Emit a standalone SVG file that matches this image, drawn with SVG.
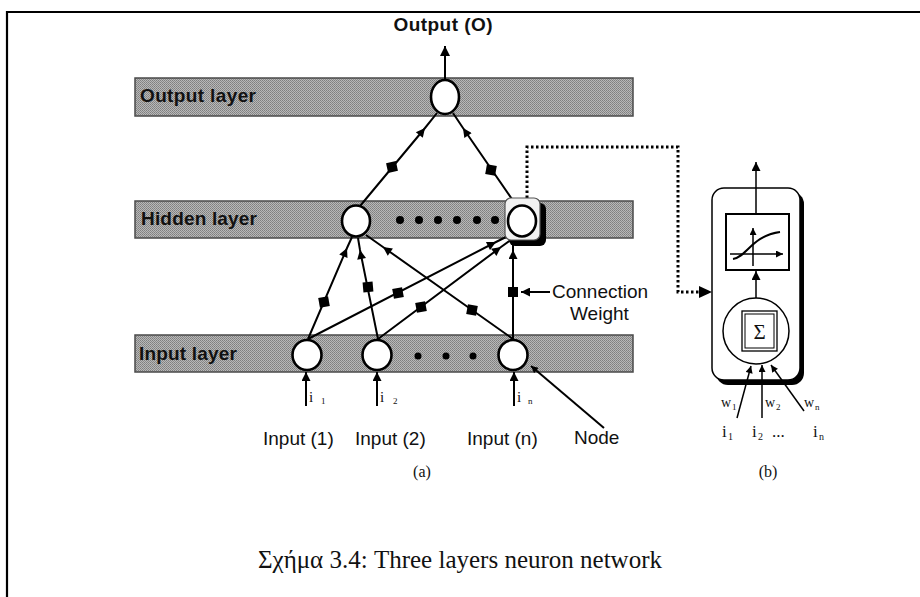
<svg xmlns="http://www.w3.org/2000/svg" width="920" height="597" viewBox="0 0 920 597">
  <defs>
    <!-- halftone fill used for the layer bands -->
    <pattern id="halftone" width="2" height="2" patternUnits="userSpaceOnUse">
      <rect width="2" height="2" fill="#b8b8b8"/>
      <rect width="1" height="1" fill="#7f7f7f"/>
      <rect x="1" y="1" width="1" height="1" fill="#8a8a8a"/>
    </pattern>
    <marker id="ah" viewBox="0 0 10 10" refX="10" refY="5" markerWidth="11" markerHeight="9" markerUnits="userSpaceOnUse" orient="auto">
      <path d="M0,0 L10,5 L0,10 z" fill="#000"/>
    </marker>
    <marker id="ahs" viewBox="0 0 10 10" refX="10" refY="5" markerWidth="8" markerHeight="7" markerUnits="userSpaceOnUse" orient="auto">
      <path d="M0,0 L10,5 L0,10 z" fill="#000"/>
    </marker>
    <marker id="ahb" viewBox="0 0 10 10" refX="10" refY="5" markerWidth="13" markerHeight="10" markerUnits="userSpaceOnUse" orient="auto">
      <path d="M0,0 L10,5 L0,10 z" fill="#000"/>
    </marker>
  </defs>
  <style>
    .band { fill: url(#halftone); stroke: #4a4a4a; stroke-width: 1.5; }
    .band-label { font-family: "Liberation Sans", Arial, sans-serif; font-weight: bold; font-size: 19px; fill: #111; }
    .node { fill: #fff; stroke: #000; stroke-width: 2.6; }
    .dot { fill: #000; }
    .conn { fill: none; stroke: #000; stroke-width: 2; }
    .wt { fill: #000; }
    .lbl { font-family: "Liberation Sans", Arial, sans-serif; font-size: 19px; fill: #111; }
    .ser { font-family: "Liberation Serif", "Times New Roman", serif; fill: #111; }
    .thin { fill: none; stroke: #000; stroke-width: 1.5; }
  </style>

  <rect width="920" height="597" fill="#fff"/>
  <!-- page frame (top and left rules) -->
  <path d="M7,597 V12 H920" fill="none" stroke="#000" stroke-width="2.2"/>

  <!-- layer bands -->
  <g id="output-layer">
    <rect class="band" x="135" y="78" width="498" height="38"/>
    <text class="band-label" x="140" y="102" textLength="116">Output layer</text>
  </g>
  <g id="hidden-layer">
    <rect class="band" x="135" y="201" width="498" height="37"/>
    <text class="band-label" x="141" y="225" textLength="116">Hidden layer</text>
  </g>
  <g id="input-layer">
    <rect class="band" x="135" y="335" width="498" height="37"/>
    <text class="band-label" x="139" y="360" textLength="98">Input layer</text>
  </g>

  <!-- connectors -->
  <g id="connectors">
    <!-- output -->
    <path class="conn" d="M445,80 V46" marker-end="url(#ahb)"/>
    <!-- hidden to output -->
    <path class="conn" d="M360,206 L425,128 L437,113" marker-mid="url(#ah)"/>
    <path class="conn" d="M516,205 L463,128 L453,113" marker-mid="url(#ah)"/>
    <!-- input to hidden -->
    <path class="conn" d="M308,339 L347,248 L352,237" marker-mid="url(#ah)"/>
    <path class="conn" d="M378,339 L360,250 L358,238" marker-mid="url(#ah)"/>
    <path class="conn" d="M513,339 L383,247 L366,235" marker-mid="url(#ah)"/>
    <path class="conn" d="M308,339 L496,242 L508,236" marker-mid="url(#ah)"/>
    <path class="conn" d="M378,339 L501,247 L512,239" marker-mid="url(#ah)"/>
    <path class="conn" d="M513,339 L513,250 L513,237" marker-mid="url(#ah)"/>
    <!-- external inputs -->
    <path class="conn" d="M306,406 V372" stroke-width="2.6" marker-end="url(#ah)"/>
    <path class="conn" d="M377,406 V372" stroke-width="2.6" marker-end="url(#ah)"/>
    <path class="conn" d="M514,406 V372" stroke-width="2.6" marker-end="url(#ah)"/>
    <!-- callouts -->
    <path class="conn" d="M550,292 H521" stroke-width="1.5" marker-end="url(#ah)"/>
    <path class="conn" d="M604,428 L531,366" stroke-width="1.8" marker-end="url(#ahs)"/>
    <!-- link from hidden node to neuron detail -->
    <path d="M527,198 V147 H678 V292 H702" fill="none" stroke="#000" stroke-width="3" stroke-dasharray="2.5 2.5"/>
    <path d="M699,286 L712,292 L699,298 z" fill="#000"/>
    <!-- connection weights -->
    <rect class="wt" x="-5" y="-5" width="10" height="10" transform="translate(392,167) rotate(-12)"/>
    <rect class="wt" x="-5" y="-5" width="10" height="10" transform="translate(491,170) rotate(10)"/>
    <rect class="wt" x="-5" y="-5" width="10" height="10" transform="translate(324,302) rotate(-10)"/>
    <rect class="wt" x="-5" y="-5" width="10" height="10" transform="translate(368,287) rotate(-5)"/>
    <rect class="wt" x="-5" y="-5" width="10" height="10" transform="translate(472,310) rotate(10)"/>
    <rect class="wt" x="-5" y="-5" width="10" height="10" transform="translate(398,293) rotate(-10)"/>
    <rect class="wt" x="-5" y="-5" width="10" height="10" transform="translate(421,307) rotate(-10)"/>
    <rect class="wt" x="-5" y="-5" width="10" height="10" transform="translate(513,292)"/>
  </g>

  <!-- nodes -->
  <g id="node-output">
    <ellipse class="node" cx="445" cy="97" rx="14" ry="17"/>
  </g>
  <g id="node-hidden-1">
    <ellipse class="node" cx="356" cy="221" rx="14" ry="15.5"/>
  </g>
  <g id="hidden-dots">
    <circle class="dot" cx="400" cy="220" r="4"/>
    <circle class="dot" cx="419" cy="220" r="4"/>
    <circle class="dot" cx="438" cy="220" r="4"/>
    <circle class="dot" cx="457" cy="220" r="4"/>
    <circle class="dot" cx="477" cy="220" r="4"/>
    <circle class="dot" cx="495" cy="220" r="4"/>
  </g>
  <g id="node-hidden-n">
    <rect x="509" y="203" width="37" height="43" rx="6" fill="#000"/>
    <rect x="505" y="198" width="35" height="42" rx="6" fill="#f2f2f2" stroke="#555" stroke-width="1.2"/>
    <ellipse class="node" cx="522" cy="221" rx="14" ry="15.5"/>
  </g>
  <g id="node-input-1">
    <ellipse class="node" cx="307" cy="355" rx="14.5" ry="15"/>
    <text class="ser" x="309" y="402" font-size="15">i</text>
    <text class="ser" x="321" y="404" font-size="9">1</text>
  </g>
  <g id="node-input-2">
    <ellipse class="node" cx="377" cy="355" rx="14.5" ry="15"/>
    <text class="ser" x="380" y="402" font-size="15">i</text>
    <text class="ser" x="393" y="404" font-size="9">2</text>
  </g>
  <g id="input-dots">
    <circle class="dot" cx="418" cy="356" r="3.5"/>
    <circle class="dot" cx="446" cy="356" r="3.5"/>
    <circle class="dot" cx="473" cy="356" r="3.5"/>
  </g>
  <g id="node-input-n">
    <ellipse class="node" cx="513" cy="355" rx="14.5" ry="15"/>
    <text class="ser" x="517" y="402" font-size="15">i</text>
    <text class="ser" x="528" y="404" font-size="9">n</text>
  </g>

  <!-- labels -->
  <text class="band-label" x="443" y="31" text-anchor="middle" textLength="99">Output (O)</text>
  <text class="lbl" x="263" y="445">Input (1)</text>
  <text class="lbl" x="355" y="445">Input (2)</text>
  <text class="lbl" x="467" y="445">Input (n)</text>
  <text class="lbl" x="574" y="444">Node</text>
  <text class="lbl" x="552" y="298">Connection</text>
  <text class="lbl" x="570" y="320">Weight</text>
  <text class="ser" x="422" y="477" font-size="16" text-anchor="middle">(a)</text>

  <!-- neuron detail -->
  <g id="neuron-detail">
    <rect x="716" y="192" width="88" height="193" rx="12" fill="#000"/>
    <rect x="712" y="188" width="88" height="192" rx="12" fill="#fff" stroke="#000" stroke-width="1.5"/>
    <!-- activation block -->
    <rect x="726" y="214" width="63" height="56" fill="#fff" stroke="#000" stroke-width="2"/>
    <path class="thin" d="M730,254 H783" marker-end="url(#ahs)"/>
    <path class="thin" d="M753,266 V228" marker-end="url(#ahs)"/>
    <path d="M733,259 C747,257 751,236 780,232" fill="none" stroke="#000" stroke-width="2"/>
    <path class="thin" d="M756,214 V162" marker-end="url(#ah)"/>
    <path class="thin" d="M756,298 V271" marker-end="url(#ah)"/>
    <!-- summation -->
    <circle cx="756" cy="331" r="33" fill="#fff" stroke="#000" stroke-width="1.5"/>
    <rect x="742" y="311" width="35" height="40" fill="none" stroke="#000" stroke-width="1.3"/>
    <rect x="745" y="314" width="29" height="34" fill="none" stroke="#000" stroke-width="1"/>
    <text class="ser" x="759.5" y="339" font-size="21" text-anchor="middle">Σ</text>
    <!-- weighted inputs -->
    <path class="thin" d="M737,418 L751,366" marker-end="url(#ahs)"/>
    <path class="thin" d="M762,418 V365" marker-end="url(#ahs)"/>
    <path class="thin" d="M804,411 L771,365" marker-end="url(#ahs)"/>
    <text class="ser" x="721" y="407" font-size="14">w</text>
    <text class="ser" x="732" y="410" font-size="9">1</text>
    <text class="ser" x="765" y="407" font-size="14">w</text>
    <text class="ser" x="776" y="410" font-size="9">2</text>
    <text class="ser" x="804" y="407" font-size="14">w</text>
    <text class="ser" x="815" y="410" font-size="9">n</text>
    <text class="ser" x="722" y="437" font-size="17">i</text>
    <text class="ser" x="728" y="440" font-size="10">1</text>
    <text class="ser" x="752" y="437" font-size="17">i</text>
    <text class="ser" x="758" y="440" font-size="10">2</text>
    <text class="ser" x="772" y="437" font-size="17">...</text>
    <text class="ser" x="813" y="437" font-size="17">i</text>
    <text class="ser" x="819" y="440" font-size="10">n</text>
    <text class="ser" x="768" y="477" font-size="16" text-anchor="middle">(b)</text>
  </g>

  <!-- caption -->
  <text class="ser" x="258" y="568" font-size="25">Σχήμα 3.4: Three layers neuron network</text>
</svg>
